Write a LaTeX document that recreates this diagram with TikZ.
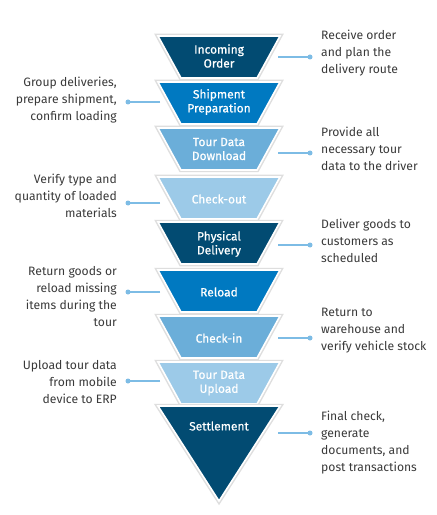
\documentclass[tikz,border=0pt]{standalone}
\usepackage{fontspec}
\setmainfont{Fira Sans}
\newfontfamily\medfont[FakeBold=0.6]{Fira Sans}
\definecolor{navy}{HTML}{024B72}
\definecolor{midblue}{HTML}{0079C1}
\definecolor{lightblue}{HTML}{6BAED9}
\definecolor{paleblue}{HTML}{9CCAE8}
\definecolor{txtgray}{HTML}{3A3A3A}
\definecolor{conn}{HTML}{7DBCE5}
\tikzset{
  seg/.style={draw=white, line width=1.6bp, line join=miter},
  segshadow/.style={draw=black!13, line width=4.5bp, line join=miter},
  lbl/.style={text=white, font=\fontsize{12}{14}\selectfont\medfont, align=center, inner sep=0pt},
  rtxt/.style={text=txtgray, font=\fontsize{12.2}{17}\selectfont, align=left, anchor=west, inner sep=0pt},
  ltxt/.style={text=txtgray, font=\fontsize{12.2}{17}\selectfont, align=right, anchor=east, inner sep=0pt},
  connector/.style={draw=conn, line width=1.4bp},
  dot/.style={circle, fill=conn, inner sep=0pt, minimum size=5bp}
}
\newcommand{\trap}[2]{%
  \path[segshadow] (158,#1) -- (280,#1) -- (257,#1+42) -- (181,#1+42) -- cycle;
  \path[seg, fill=#2] (158,#1) -- (280,#1) -- (257,#1+42) -- (181,#1+42) -- cycle;
}
\begin{document}
\begin{tikzpicture}[x=1bp,y=-1bp]
\useasboundingbox (0,0) rectangle (437,515);
\fill[white] (0,0) rectangle (437,515);
% funnel segments
\trap{36}{navy}
\trap{82}{midblue}
\trap{128}{lightblue}
\trap{177}{paleblue}
\trap{222}{navy}
\trap{270}{midblue}
\trap{316}{lightblue}
\trap{362}{paleblue}
\path[segshadow] (158,406) -- (280,406) -- (219,501) -- cycle;
\path[seg, fill=navy] (158,406) -- (280,406) -- (219,501) -- cycle;
% labels
\node[lbl] (s1) at (219,56) {Incoming\\Order};
\node[lbl] (s2) at (219,102) {Shipment\\Preparation};
\node[lbl] (s3) at (219,149) {Tour Data\\Download};
\node[lbl] (s4) at (219,199) {Check-out};
\node[lbl] (s5) at (219,244) {Physical\\Delivery};
\node[lbl] (s6) at (219,292) {Reload};
\node[lbl] (s7) at (219,338) {Check-in};
\node[lbl] (s8) at (219,383) {Tour Data\\Upload};
\node[lbl] (s9) at (219,426) {Settlement};
% side texts
\node[rtxt] (t1) at (321,53) {Receive order\\and plan the\\delivery route};
\node[ltxt] (t2) at (117,100) {Group deliveries,\\prepare shipment,\\confirm loading};
\node[rtxt] (t3) at (321,149) {Provide all\\necessary tour\\data to the driver};
\node[ltxt] (t4) at (117,196) {Verify type and\\quantity of loaded\\materials};
\node[rtxt] (t5) at (321,241) {Deliver goods to\\customers as\\scheduled};
\node[ltxt] (t6) at (117,296.5) {Return goods or\\reload missing\\items during the\\tour};
\node[rtxt] (t7) at (321,331) {Return to\\warehouse and\\verify vehicle stock};
\node[ltxt] (t8) at (117,382) {Upload tour data\\from mobile\\device to ERP};
\node[rtxt] (t9) at (321,442.5) {Final check,\\generate\\documents, and\\post transactions};
% connectors
\foreach \n/\y in {1/57,3/153,5/245,7/338,9/433}{
  \coordinate (a\n) at (278,\y);
  \node[dot] (d\n) at (310,\y) {};
  \draw[connector] (a\n) -- (d\n.center);
}
\foreach \n/\y in {2/102,4/203,6/292,8/381}{
  \coordinate (a\n) at (160,\y);
  \node[dot] (d\n) at (128,\y) {};
  \draw[connector] (a\n) -- (d\n.center);
}
\end{tikzpicture}
\end{document}
